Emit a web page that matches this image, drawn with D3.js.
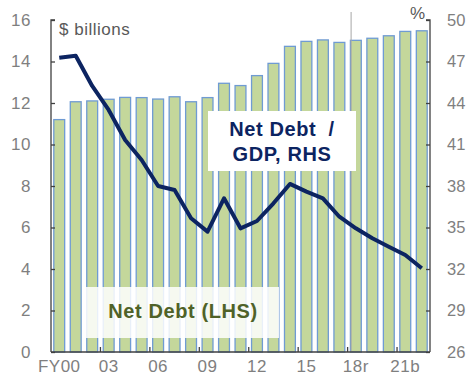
<!DOCTYPE html>
<html>
<head>
<meta charset="utf-8">
<script src="https://cdn.jsdelivr.net/npm/d3@7"></script>
<style>
  body { margin: 0; background: #fff; }
  svg { font-family: "Liberation Sans", Arial, sans-serif; }
  .tick-label { fill: #7f7f7f; font-size: 17px; letter-spacing: 0.5px; }
  .right-label { fill: #7f7f7f; font-size: 16.5px; letter-spacing: 0; }
</style>
</head>
<body>
<svg id="chart" width="469" height="375"></svg>
<script>
// data
var years = ['00', '01', '02', '03', '04', '05', '06', '07', '08', '09', '10', '11',
  '12', '13', '14', '15', '16', '17', '18', '19', '20', '21', '22'];
var netDebt = [11.2, 12.06, 12.1, 12.18, 12.27, 12.26, 12.19, 12.3, 12.06, 12.26, 12.95, 12.84,
  13.32, 13.91, 14.73, 14.97, 15.04, 14.92, 15.02, 15.12, 15.24, 15.45, 15.48];
var debtToGdp = [47.27, 47.42, 45.23, 43.5, 41.33, 39.88, 38.0, 37.71, 35.67, 34.7, 37.11, 34.94,
  35.47, 36.75, 38.15, 37.59, 37.11, 35.78, 34.94, 34.22, 33.61, 33.01, 32.05];
var xLabels = { '00': 'FY00', '03': '03', '06': '06', '09': '09', '12': '12', '15': '15', '18': '18r', '21': '21b' };
var leftTicks = [0, 2, 4, 6, 8, 10, 12, 14, 16];
var rightTicks = [26, 29, 32, 35, 38, 41, 44, 47, 50];

var svg = d3.select("#chart");
var margin = { top: 20, right: 39, bottom: 23, left: 51 };
var W = 469, H = 375;
var plotWidth = W - margin.left - margin.right;
var plotHeight = H - margin.top - margin.bottom;

var plot = svg.append("g")
  .attr("transform", translate(margin.left, margin.top));

var x = d3.scaleBand()
  .domain(years)
  .range([0, plotWidth])
  .paddingInner(0.34)
  .paddingOuter(0.17);

var yLeft = d3.scaleLinear().domain([0, 16]).range([plotHeight, 0]);
var yRight = d3.scaleLinear().domain([26, 50]).range([plotHeight, 0]);

// bars
plot.selectAll(".bar")
  .data(years)
  .enter()
  .append("rect")
  .attr("class", "bar")
  .attr("x", function(d) { return x(d); })
  .attr("width", x.bandwidth())
  .attr("y", function(d, i) { return yLeft(netDebt[i]); })
  .attr("height", function(d, i) { return plotHeight - yLeft(netDebt[i]); })
  .attr("fill", "#c4d79b")
  .attr("stroke", "#6f9bd3")
  .attr("stroke-width", 1.3);

// vertical divider between actual and forecast
var step = x.step();
var divX = x('18') - (step - x.bandwidth()) / 2 + 3.5;
plot.append("line")
  .attr("x1", divX).attr("x2", divX)
  .attr("y1", -8).attr("y2", plotHeight)
  .attr("stroke", "#a6a6a6")
  .attr("stroke-width", 1);

// line
var line = d3.line()
  .x(function(d, i) { return x(years[i]) + x.bandwidth() / 2; })
  .y(function(d) { return yRight(d); });

plot.append("path")
  .datum(debtToGdp)
  .attr("d", line)
  .attr("fill", "none")
  .attr("stroke", "#0c2461")
  .attr("stroke-width", 4)
  .attr("stroke-linejoin", "round");

// axes
var axisColor = "#404040";
var leftAxis = d3.axisLeft(yLeft).tickValues(leftTicks).tickSize(-4).tickPadding(20);
var rightAxis = d3.axisRight(yRight).tickValues(rightTicks).tickSize(-4).tickPadding(17);
var bottomAxis = d3.axisBottom(x)
  .tickValues(years)
  .tickSize(0)
  .tickPadding(8)
  .tickFormat(function(d) { return xLabels[d] || ""; });

var gl = plot.append("g").call(leftAxis);
var gr = plot.append("g").attr("transform", translate(plotWidth, 0)).call(rightAxis);
var gb = plot.append("g").attr("transform", translate(0, plotHeight)).call(bottomAxis);

[gl, gr, gb].forEach(function(g) {
  g.select(".domain").attr("stroke", axisColor).attr("stroke-width", 1.3);
  g.selectAll(".tick line").attr("stroke", axisColor).attr("stroke-width", 1.3);
  g.selectAll(".tick text")
    .attr("class", g === gr ? "right-label" : "tick-label")
    .attr("font-family", null)
    .attr("font-size", null);
});
gb.select(".domain").attr("d", "M0,0H" + plotWidth);
gl.select(".domain").attr("d", "M4,0H0V" + plotHeight);
gr.select(".domain").attr("d", "M-4,0H0V" + plotHeight);

// bottom ticks at band edges every three years, pointing up
var edgeTicks = ['03', '06', '09', '12', '15', '18', '21'];
gb.selectAll(".edge")
  .data(edgeTicks)
  .enter()
  .append("line")
  .attr("x1", function(d) { return x(d) - (step - x.bandwidth()) / 2; })
  .attr("x2", function(d) { return x(d) - (step - x.bandwidth()) / 2; })
  .attr("y1", 0).attr("y2", -5)
  .attr("stroke", axisColor)
  .attr("stroke-width", 1.3);

// unit labels
svg.append("text")
  .attr("x", 59).attr("y", 35)
  .attr("fill", "#595959")
  .attr("font-size", 17)
  .attr("letter-spacing", 0.5)
  .text("$ billions");

svg.append("text")
  .attr("x", 425).attr("y", 19)
  .attr("text-anchor", "end")
  .attr("fill", "#595959")
  .attr("font-size", 17)
  .text("%");

// series label boxes
svg.append("rect")
  .attr("x", 208).attr("y", 111)
  .attr("width", 148).attr("height", 60)
  .attr("fill", "#ffffff");

var lab1 = svg.append("text")
  .attr("text-anchor", "middle")
  .attr("fill", "#0c2461")
  .attr("font-size", 20)
  .attr("letter-spacing", 0.6)
  .attr("font-weight", "bold");
lab1.append("tspan").attr("x", 282).attr("y", 136).attr("xml:space", "preserve").text("Net Debt  /");
lab1.append("tspan").attr("x", 282).attr("y", 161).text("GDP, RHS");

svg.append("rect")
  .attr("x", 84).attr("y", 287)
  .attr("width", 195).attr("height", 51)
  .attr("fill", "#ffffff")
  .attr("fill-opacity", 0.85);

svg.append("text")
  .attr("x", 183).attr("y", 318)
  .attr("text-anchor", "middle")
  .attr("fill", "#4f6228")
  .attr("font-size", 20)
  .attr("letter-spacing", 0.6)
  .attr("font-weight", "bold")
  .text("Net Debt (LHS)");

function translate(x, y) {
  return "translate(" + x + "," + y + ")";
}
</script>
</body>
</html>
